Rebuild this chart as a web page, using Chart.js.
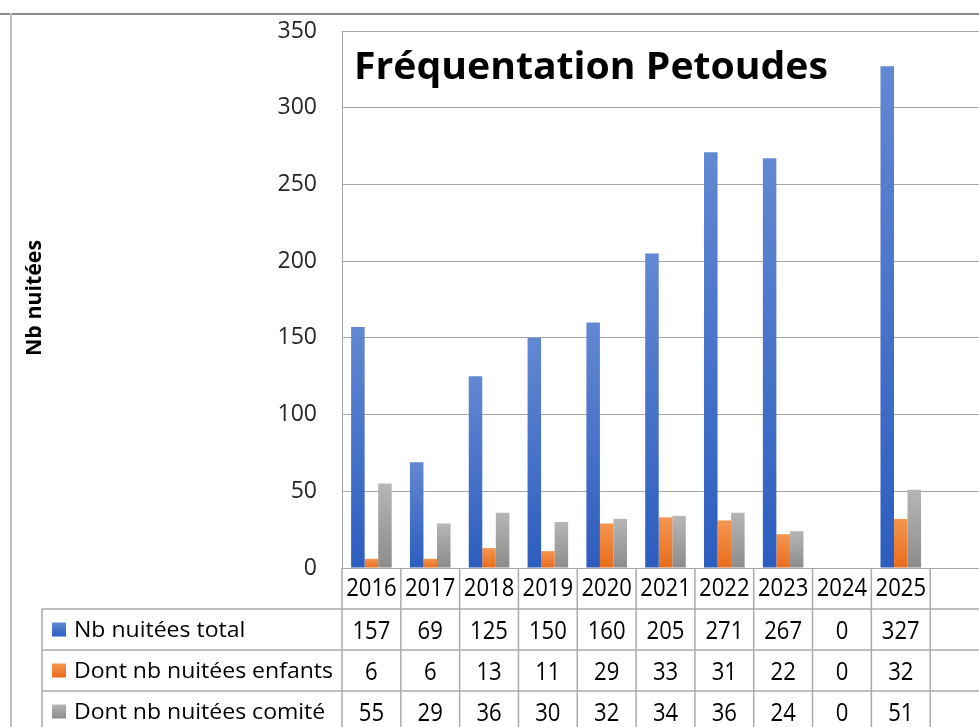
<!DOCTYPE html>
<html>
<head>
<meta charset="utf-8">
<script src="https://cdn.jsdelivr.net/npm/chart.js@4.4.1/dist/chart.umd.min.js"></script>
<style>
  html, body { margin: 0; padding: 0; background: #ffffff; overflow: hidden; }
  #wrap { position: absolute; left: 0; top: 0; width: 1000px; height: 727px; }
</style>
</head>
<body>
<div id="wrap"><canvas id="c" width="1000" height="727" style="width:1000px;height:727px"></canvas></div>
<script>
// ---- data ----
const categories = ['2016', '2017', '2018', '2019', '2020', '2021', '2022', '2023', '2024', '2025', ''];
const seriesNames = ['Nb nuitées total', 'Dont nb nuitées enfants', 'Dont nb nuitées comité'];
const totalValues = [157, 69, 125, 150, 160, 205, 271, 267, 0, 327, null];
const enfantsValues = [6, 6, 13, 11, 29, 33, 31, 22, 0, 32, null];
const comiteValues = [55, 29, 36, 30, 32, 34, 36, 24, 0, 51, null];
const yTickValues = [0, 50, 100, 150, 200, 250, 300, 350];
const chartTitle = 'Fréquentation Petoudes';
const yAxisTitle = 'Nb nuitées';

// ---- styles ----
const gradStops = [
  ['#6388d2', '#2c5dbf'],
  ['#f5964f', '#e86c1c'],
  ['#b6b6b6', '#8c8c8c']
];
const FONT = '"Open Sans", "Noto Sans", sans-serif';

function barFill(idx) {
  return function (c) {
    const chart = c.chart;
    const ys = chart.scales && chart.scales.y;
    if (!ys || c.raw == null || !isFinite(ys.getPixelForValue(0))) return gradStops[idx][1];
    const y1 = ys.getPixelForValue(c.raw);
    const y0 = ys.getPixelForValue(0);
    if (Math.abs(y0 - y1) < 1) return gradStops[idx][1];
    const g = chart.ctx.createLinearGradient(0, y1, 0, y0);
    g.addColorStop(0, gradStops[idx][0]);
    g.addColorStop(1, gradStops[idx][1]);
    return g;
  };
}

function sText(ctx, text, x, y, align, sx) {
  ctx.save();
  ctx.translate(x, y);
  ctx.scale(sx, 1);
  ctx.textAlign = align;
  ctx.fillText(text, 0, 0);
  ctx.restore();
}

const decor = {
  id: 'decor',
  beforeDraw(chart) {
    const ctx = chart.ctx;
    ctx.save();
    ctx.fillStyle = '#ffffff';
    ctx.fillRect(0, 0, chart.width, chart.height);
    ctx.strokeStyle = '#8c8c8c';
    ctx.lineWidth = 2;
    ctx.beginPath(); ctx.moveTo(0, 14); ctx.lineTo(chart.width, 14); ctx.stroke();
    ctx.strokeStyle = '#c0c0c0';
    ctx.beginPath(); ctx.moveTo(11, 13); ctx.lineTo(11, chart.height); ctx.stroke();
    ctx.restore();
  },
  afterDraw(chart) {
    const ctx = chart.ctx;
    const xs = chart.scales.x, ys = chart.scales.y;
    const area = chart.chartArea;
    const n = categories.length;
    const cw = (area.right - area.left) / n;
    const y0 = ys.getPixelForValue(0);
    const rowH = 41;
    const headTop = y0, headBot = y0 + rowH;
    const tableLeft = 42;
    const W = chart.width, H = chart.height;
    ctx.save();

    // Title inside plot area
    ctx.fillStyle = '#000000';
    ctx.font = 'bold 37px ' + FONT;
    ctx.textBaseline = 'alphabetic';
    const tw = ctx.measureText(chartTitle).width;
    sText(ctx, chartTitle, 354, 79, 'left', 474 / tw);

    // Y axis title
    ctx.save();
    ctx.translate(41, 298);
    ctx.rotate(-Math.PI / 2);
    ctx.font = 'bold 21px ' + FONT;
    ctx.textBaseline = 'alphabetic';
    const aw = ctx.measureText(yAxisTitle).width;
    sText(ctx, yAxisTitle, 0, 0, 'center', 116 / aw);
    ctx.restore();

    // table lines
    ctx.strokeStyle = '#ababab';
    ctx.lineWidth = 1.5;
    ctx.beginPath();
    for (let r = 1; r <= 3; r++) {
      const y = headTop + r * rowH;
      ctx.moveTo(tableLeft, y); ctx.lineTo(W, y);
    }
    for (let i = 0; i <= n; i++) {
      const x = area.left + i * cw;
      ctx.moveTo(x, headTop); ctx.lineTo(x, H);
    }
    ctx.moveTo(tableLeft, headBot); ctx.lineTo(tableLeft, H);
    ctx.stroke();

    // header labels
    ctx.fillStyle = '#000000';
    ctx.font = '25px ' + FONT;
    ctx.textBaseline = 'alphabetic';
    const dw = ctx.measureText('2016').width;
    const sxNum = 50.5 / dw;
    for (let i = 0; i < n; i++) {
      sText(ctx, categories[i], xs.getPixelForValue(i), headTop + 28, 'center', sxNum);
    }

    // rows
    const rows = [totalValues, enfantsValues, comiteValues];
    ctx.font = '22px ' + FONT;
    const lw = ctx.measureText(seriesNames[1]).width;
    const sxLab = 259 / lw;
    for (let r = 0; r < 3; r++) {
      const top = headBot + r * rowH;
      const ky = top + rowH / 2 - 7;
      const g = ctx.createLinearGradient(0, ky, 0, ky + 14);
      g.addColorStop(0, gradStops[r][0]);
      g.addColorStop(1, gradStops[r][1]);
      ctx.fillStyle = g;
      ctx.fillRect(52, ky, 14, 14);
      ctx.fillStyle = '#000000';
      ctx.font = '22px ' + FONT;
      sText(ctx, seriesNames[r], 74, top + 28, 'left', sxLab);
      ctx.font = '25px ' + FONT;
      for (let i = 0; i < n; i++) {
        const v = rows[r][i];
        if (v == null) continue;
        sText(ctx, String(v), xs.getPixelForValue(i), top + 30, 'center', sxNum);
      }
    }
    ctx.restore();
  }
};

new Chart(document.getElementById('c'), {
  type: 'bar',
  data: {
    labels: categories,
    datasets: [
      { label: seriesNames[0], data: totalValues, backgroundColor: barFill(0) },
      { label: seriesNames[1], data: enfantsValues, backgroundColor: barFill(1) },
      { label: seriesNames[2], data: comiteValues, backgroundColor: barFill(2) }
    ]
  },
  options: {
    responsive: false,
    animation: false,
    devicePixelRatio: 1,
    layout: { padding: { left: 0, top: 31, right: 11, bottom: 159 } },
    datasets: { bar: { categoryPercentage: 0.69, barPercentage: 1.0 } },
    plugins: { legend: { display: false }, tooltip: { enabled: false }, title: { display: false } },
    scales: {
      x: { display: false },
      y: {
        min: 0, max: 350,
        afterFit(s) { s.width = 342; s.paddingTop = 0; s.paddingBottom = 0; },
        afterBuildTicks(s) { s.ticks = yTickValues.map(v => ({ value: v })); },
        grid: { color: '#a6a6a6', lineWidth: 1, drawTicks: false },
        border: { display: true, color: '#a6a6a6', width: 1 },
        ticks: { padding: 25, color: '#262626', font: { family: FONT, size: 23 } }
      }
    }
  },
  plugins: [decor]
});
</script>
</body>
</html>
